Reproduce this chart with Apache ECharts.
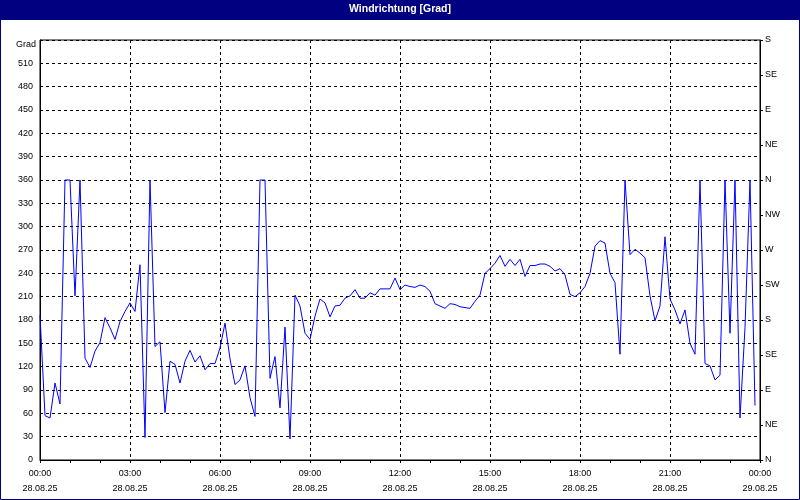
<!DOCTYPE html>
<html><head><meta charset="utf-8">
<script src="https://cdn.jsdelivr.net/npm/echarts@6/dist/echarts.min.js"></script>
<style>html,body{margin:0;padding:0;background:#fff}#c{width:800px;height:500px}</style>
</head><body><div id="c"></div>
<script>
const chartTitle = 'Windrichtung [Grad]';
const yUnit = 'Grad';
const xTickLabels = ['00:00\n28.08.25','03:00\n28.08.25','06:00\n28.08.25','09:00\n28.08.25','12:00\n28.08.25','15:00\n28.08.25','18:00\n28.08.25','21:00\n28.08.25','00:00\n29.08.25'];
const compassLabels = ['N','NE','E','SE','S','SW','W','NW','N','NE','E','SE','S'];
const sampleMinutes = 10;
const direction = [
186,57,54,99,72,360,360,211,360,131,119,140,151,183,170,155,178,191,
202,191,251,29,360,146,152,61,127,123,99,127,141,126,134,116,124,124,
144,176,130,97,103,121,80,56,360,360,105,133,67,171,27,212,198,163,
155,185,207,202,184,198,199,208,211,219,208,208,215,212,220,220,220,234,
219,225,223,222,225,223,217,201,198,195,201,200,197,196,195,204,212,240,
246,253,263,249,258,250,258,236,250,250,252,252,249,243,246,238,213,210,
215,223,240,275,282,279,240,228,136,360,264,271,266,260,211,179,198,287,
207,193,175,193,150,136,360,124,121,103,109,360,163,360,54,170,360,70
];

const FONT = 'Liberation Sans';
const data = direction.map((v, i) => [i * sampleMinutes / 60, v]);

const chart = echarts.init(document.getElementById('c'), null, {renderer: 'canvas'});
chart.setOption({
  animation: false,
  backgroundColor: '#fff',
  textStyle: {fontFamily: FONT},
  grid: {left: 40, right: 40, top: 40, bottom: 40, show: true, borderColor: '#000', borderWidth: 1, backgroundColor: 'transparent'},
  graphic: [
    {type: 'rect', shape: {x: 0, y: 0, width: 800, height: 20}, style: {fill: '#000080'}, silent: true},
    {type: 'rect', shape: {x: 0.5, y: 0.5, width: 799, height: 499}, style: {fill: 'none', stroke: '#000080', lineWidth: 1}, silent: true},
    {type: 'text', left: 'center', top: 4, style: {text: chartTitle, fill: '#fff', font: 'bold 10.5px "Liberation Sans"'}, silent: true}
  ],
  xAxis: {
    type: 'value', min: 0, max: 24, interval: 3,
    axisLine: {show: true, lineStyle: {color: '#000', width: 1}},
    axisTick: {show: true, length: 3, lineStyle: {color: '#000'}},
    minorTick: {show: true, splitNumber: 3, length: 3, lineStyle: {color: '#000'}},
    axisLabel: {
      color: '#000', fontSize: 9, lineHeight: 15, margin: 6, fontFamily: FONT,
      formatter: v => xTickLabels[Math.round(v / 3)] || ''
    },
    splitLine: {show: true, lineStyle: {color: '#000', type: [3, 3], width: 1}}
  },
  yAxis: [
    {
      type: 'value', min: 0, max: 540, interval: 30, position: 'left',
      name: yUnit, nameLocation: 'end', nameGap: -5,
      nameTextStyle: {color: '#000', fontSize: 9, fontFamily: FONT, align: 'right', verticalAlign: 'middle', padding: [0, 4, 0, 0]},
      axisLine: {show: true, lineStyle: {color: '#000'}},
      axisTick: {show: false},
      axisLabel: {color: '#000', fontSize: 9, margin: 7, fontFamily: FONT, formatter: v => v === 540 ? '' : String(v)},
      splitLine: {show: true, lineStyle: {color: '#000', type: [3, 3], width: 1}}
    },
    {
      type: 'value', min: 0, max: 540, interval: 45, position: 'right',
      axisLine: {show: true, lineStyle: {color: '#000'}},
      axisTick: {show: true, length: 3, lineStyle: {color: '#000'}},
      axisLabel: {color: '#000', fontSize: 9, margin: 5, fontFamily: FONT, formatter: v => compassLabels[Math.round(v / 45)] || ''},
      splitLine: {show: false}
    }
  ],
  series: [{
    type: 'line', data: data, yAxisIndex: 0,
    showSymbol: false, symbol: 'none', smooth: false,
    lineStyle: {color: '#0000ff', width: 1},
    itemStyle: {color: '#0000ff'}
  }]
});
</script></body></html>
